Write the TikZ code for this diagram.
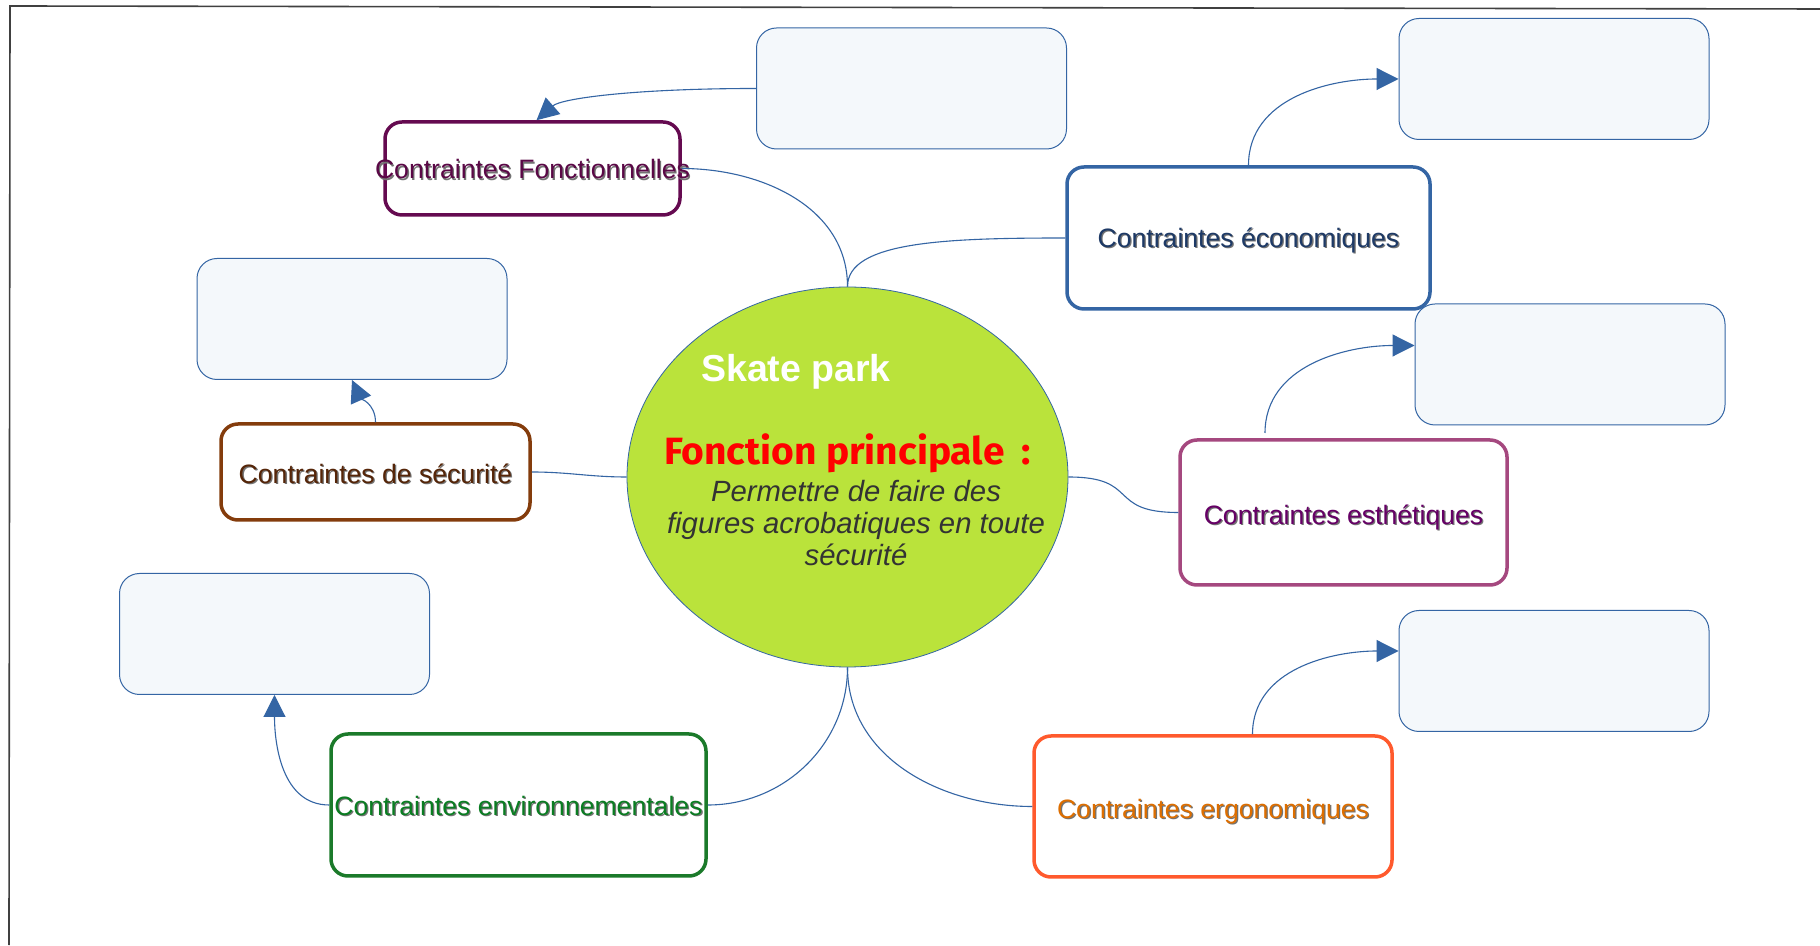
\documentclass[tikz,border=0pt]{standalone}
\usepackage{fontspec}
\setmainfont{Liberation Sans}
\newfontfamily\fpfont[FakeStretch=1.025]{Fira Sans}
\usetikzlibrary{arrows.meta,shapes.geometric}
\definecolor{linkc}{HTML}{3465A4}
\definecolor{emptyfill}{HTML}{F4F8FB}
\definecolor{ellfill}{HTML}{BAE33B}
\definecolor{cfb}{HTML}{650A50}
\definecolor{cft}{HTML}{5A0846}
\definecolor{ceb}{HTML}{3465A4}
\definecolor{cet}{HTML}{1E3A66}
\definecolor{csb}{HTML}{843C0C}
\definecolor{cst}{HTML}{552508}
\definecolor{cstb}{HTML}{A5487F}
\definecolor{cstt}{HTML}{660066}
\definecolor{cenb}{HTML}{1B7A2A}
\definecolor{cent}{HTML}{0A7D22}
\definecolor{cerb}{HTML}{FF5A2D}
\definecolor{cert}{HTML}{DD6E00}
\definecolor{itc}{HTML}{333333}
% coloured label with a drop shadow; #3 = baseline offset from the box centre
\newcommand\shtxt[3]{\raisebox{#3}[0pt][0pt]{\makebox[0pt]{\rlap{\kern1.3pt\lower1.3pt\hbox{\color{black!55}#2}}{\color{#1}#2}}}}
\tikzset{
  linkline/.style={draw=linkc, line width=1.1pt},
  arr/.style={linkline, -{Triangle[length=22pt,width=22pt]}},
  cbox/.style={draw, line width=3.5pt, rounded corners=17pt, fill=white, inner sep=0pt,
    font=\fontsize{26.6pt}{30pt}\selectfont},
  ebox/.style={draw=linkc, line width=1pt, fill=emptyfill, rounded corners=20pt,
    minimum width=310pt, minimum height=121pt, inner sep=0pt},
  eltext/.style={anchor=base, inner sep=0pt},
  ittext/.style={eltext, text=itc, font=\itshape\fontsize{29.3pt}{32pt}\selectfont}
}
\begin{document}
\begin{tikzpicture}[x=1pt,y=1pt]
\useasboundingbox (0,0) rectangle (1820,945);
\fill[white] (0,0) rectangle (1820,945);
% frame
\draw[black!75, line width=1.6pt] (1820,936) -- (10,939) -- (9,0);

% central ellipse
\node[ellipse, draw=linkc, fill=ellfill, line width=0.8pt, minimum width=441pt, minimum height=380pt, inner sep=0pt] (ell) at (847.5,468) {};
\node[eltext, text=white, font=\bfseries\fontsize{37.5pt}{40pt}\selectfont] (sk) at (796,563) {Skate park};
\node[eltext, text=red, font=\fpfont\bfseries\fontsize{38pt}{40pt}\selectfont] (fp) at (847.5,480) {Fonction principale\hspace{0.2em} :};
\node[ittext] (pm1) at (856,443) {Permettre de faire des};
\node[ittext] (pm2) at (856,411) {figures acrobatiques en toute};
\node[ittext] (pm3) at (856,379) {sécurité};

% constraint boxes
\node[cbox, draw=cfb, minimum width=295pt, minimum height=93pt] (CF) at (532.5,776.5) {\shtxt{cft}{Contraintes Fonctionnelles}{-10.5pt}};
\node[cbox, draw=ceb, minimum width=363pt, minimum height=142pt] (CE) at (1248.5,707) {\shtxt{cet}{Contraintes économiques}{-9.7pt}};
\node[cbox, draw=csb, minimum width=309pt, minimum height=96pt] (CS) at (375.5,473) {\shtxt{cst}{Contraintes de sécurité}{-11.5pt}};
\node[cbox, draw=cstb, minimum width=327pt, minimum height=145pt] (CEst) at (1343.5,432.5) {\shtxt{cstt}{Contraintes esthétiques}{-12pt}};
\node[cbox, draw=cenb, minimum width=375pt, minimum height=142pt] (CEnv) at (518.5,140) {\shtxt{cent}{Contraintes environnementales}{-10.5pt}};
\node[cbox, draw=cerb, minimum width=358pt, minimum height=141pt] (CErg) at (1213,138.5) {\shtxt{cert}{Contraintes ergonomiques}{-12pt}};

% empty boxes
\node[ebox] (A) at (911.5,856.5) {};
\node[ebox] (B) at (1554,866) {};
\node[ebox] (C) at (352,626) {};
\node[ebox] (D) at (1570,580.5) {};
\node[ebox] (E) at (274.5,311) {};
\node[ebox] (F) at (1554,274) {};

% connectors from the ellipse
\draw[linkline] (ell.north) to[out=90,in=0] (CF.east);
\draw[linkline] (ell.north) .. controls +(0,45) and +(-120,0) .. (CE.west);
\draw[linkline] (ell.west) to[out=180,in=0] (CS.east);
\draw[linkline] (ell.east) to[out=0,in=180,looseness=1.6] (CEst.west);
\draw[linkline] (ell.south) to[out=-90,in=0] (CEnv.east);
\draw[linkline] (ell.south) to[out=-90,in=180] (CErg.west);

% arrows to the empty boxes
\coordinate (cest0) at (1265,512);
\coordinate (cerg0) at ([xshift=39.5pt]CErg.north);
\draw[arr] (A.west) .. controls +(-120,0) and +(25,22) .. ([xshift=4pt]CF.north);
\draw[arr] (CE.north) to[out=90,in=180] (B.west);
\draw[arr] (CS.north) to[out=90,in=-66] (C.south);
\draw[arr] (cest0) to[out=90,in=180] ([yshift=19pt]D.west);
\draw[arr] (CEnv.west) to[out=180,in=-90] (E.south);
\draw[arr] (cerg0) to[out=90,in=180] ([yshift=20pt]F.west);
\end{tikzpicture}
\end{document}
